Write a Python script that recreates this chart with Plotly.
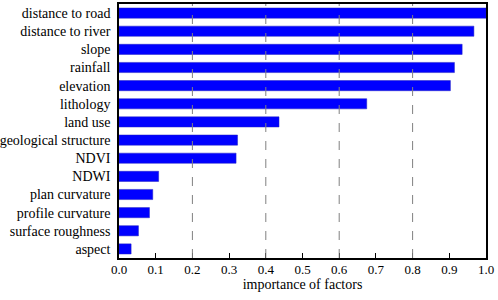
import plotly.graph_objects as go

factors = ["distance to road", "distance to river", "slope", "rainfall", "elevation",
           "lithology", "land use", "geological structure", "NDVI", "NDWI",
           "plan curvature", "profile curvature", "surface roughness", "aspect"]
importance = [1.0, 0.967, 0.935, 0.914, 0.903, 0.675, 0.436, 0.323, 0.319,
              0.108, 0.092, 0.083, 0.053, 0.033]
x_ticks = [0.0, 0.1, 0.2, 0.3, 0.4, 0.5, 0.6, 0.7, 0.8, 0.9, 1.0]
grid_vals = [0.2, 0.4, 0.6, 0.8]

font = "Times New Roman, Liberation Serif, DejaVu Serif, serif"

fig = go.Figure(go.Bar(
    x=importance, y=factors, orientation="h",
    marker=dict(color="#0000FF", line=dict(color="#2020c0", width=0.5)),
    width=0.56,
))

for g in grid_vals:
    fig.add_shape(type="line", xref="x", yref="paper", x0=g, x1=g, y0=0, y1=1,
                  line=dict(color="#808080", width=1, dash="dash"), layer="above")

fig.update_layout(
    width=498, height=300,
    margin=dict(l=119, r=12, t=4, b=42),
    plot_bgcolor="white", paper_bgcolor="white",
    showlegend=False,
    font=dict(family=font, size=14, color="black"),
    bargap=0.44,
)
fig.update_xaxes(
    range=[0, 1.0], tickvals=x_ticks, ticktext=[f"{v:.1f}" for v in x_ticks],
    ticks="inside", ticklen=5, tickwidth=1, tickcolor="black",
    showline=True, linecolor="black", linewidth=1.5, mirror=True,
    showgrid=False, zeroline=False, automargin=False,
    title=dict(text="importance of factors", font=dict(family=font, size=14), standoff=0),
    tickfont=dict(family=font, size=13), ticklabelstandoff=-1,
)
fig.update_yaxes(
    autorange=False, range=[13.5, -0.5], categoryorder="array", categoryarray=factors,
    showline=True, linecolor="black", linewidth=1.5, mirror=True,
    ticks="", showgrid=False, zeroline=False, automargin=False,
    tickfont=dict(family=font, size=14), ticklabelstandoff=4,
)

fig.write_html("out.html", config={"displayModeBar": False},
               post_script="document.body.style.margin='0';document.body.style.overflow='hidden';")
